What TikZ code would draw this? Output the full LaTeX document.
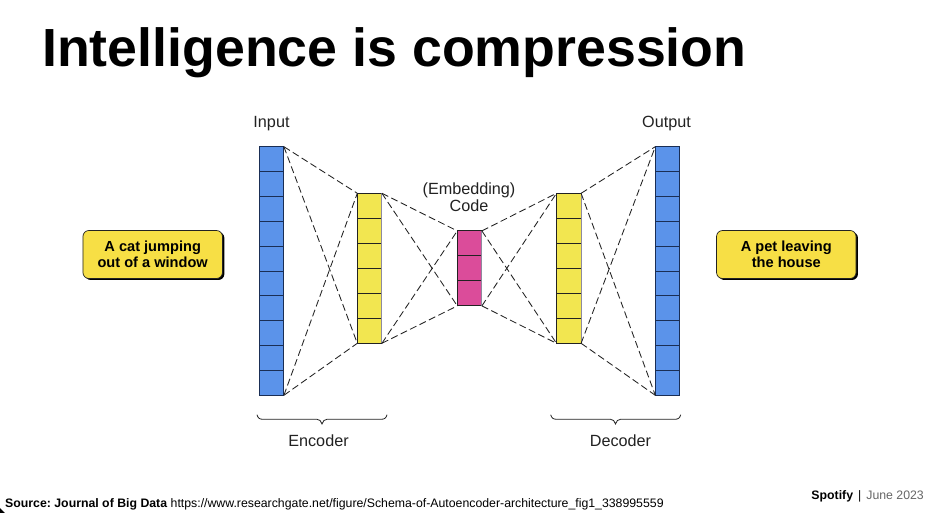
\documentclass[tikz,border=0pt]{standalone}
\usepackage{fontspec}
\setmainfont{Liberation Sans}
\usetikzlibrary{calc}
\definecolor{bluecell}{HTML}{5B93EA}
\definecolor{yellowcell}{HTML}{F2E650}
\definecolor{pinkcell}{HTML}{DB4C9A}
\definecolor{boxyellow}{HTML}{F7DF45}
\definecolor{ink}{HTML}{222222}
\definecolor{lineblue}{HTML}{1A2E55}
\definecolor{edgegrey}{HTML}{8E8A9E}
\tikzset{
  x=1pt,y=-1pt,
  column/.style={draw=#1,line width=0.9pt,inner sep=0pt,minimum width=24.6pt,outer sep=0pt},
  link/.style={draw=ink,line width=0.85pt,dash pattern=on 7pt off 3.5pt},
  callout/.style={draw=ink,line width=0.7pt,fill=boxyellow,rounded corners=6pt,minimum width=139.5pt,minimum height=48pt,inner sep=0pt,align=center,font=\bfseries\fontsize{14.6}{16.5}\selectfont,text=black},
  shade/.style={fill=black,rounded corners=6pt,minimum width=139.5pt,minimum height=48pt,inner sep=0pt},
  lab/.style={font=\fontsize{16.2}{16.8}\selectfont,text=ink,align=center,inner sep=0pt},
  bracket/.style={draw=ink,line width=0.8pt},
}
\newcommand{\cellrules}[3]{%
  \foreach \k in {1,...,#2}{
    \draw[#3,line width=0.9pt] ($(#1.north west)!{\k/(#2+1)}!(#1.south west)$) -- ($(#1.north east)!{\k/(#2+1)}!(#1.south east)$);
  }}
\begin{document}
\frenchspacing
\begin{tikzpicture}
\useasboundingbox (0,0) rectangle (938,513);
\fill[white] (0,0) rectangle (938,513);
\fill[black] (0,508) -- (5,513) -- (0,513) -- cycle;
\node[anchor=base west,inner sep=0pt,font=\bfseries\fontsize{53.7}{54}\selectfont,text=black] (title) at (42,66.7) {Intelligence is compression};

\node[column=lineblue,fill=bluecell,minimum height=248.6pt] (b1) at (271.6,271) {};
\node[column=ink,fill=yellowcell,minimum height=150pt] (y1) at (369.6,268.3) {};
\node[column=ink,fill=pinkcell,minimum height=75pt] (p) at (469.6,268.4) {};
\node[column=ink,fill=yellowcell,minimum height=150pt] (y2) at (568.8,268.3) {};
\node[column=lineblue,fill=bluecell,minimum height=248.6pt] (b2) at (667.6,271) {};
\cellrules{b1}{9}{lineblue}
\cellrules{y1}{5}{ink}
\cellrules{p}{2}{ink}
\cellrules{y2}{5}{ink}
\cellrules{b2}{9}{lineblue}
\foreach \c in {y1,p,y2}{
  \draw[edgegrey,line width=1.1pt] (\c.north east) -- (\c.south east);
}

\foreach \l/\r in {b1/y1,y1/p,p/y2,y2/b2}{
  \draw[link] (\l.north east) -- (\r.north west);
  \draw[link] (\l.north east) -- (\r.south west);
  \draw[link] (\l.south east) -- (\r.north west);
  \draw[link] (\l.south east) -- (\r.south west);
}

\node[shade] (sa) at (154.6,256) {};
\node[callout] (a) at (152.7,254.5) {A cat jumping\\out of a window};
\node[shade] (sb) at (788.2,256) {};
\node[callout] (d) at (786.3,254.5) {A pet leaving\\the house};

\node[lab] (input) at (271.5,123.5) {Input};
\node[lab] (output) at (666.5,123.5) {Output};
\node[lab] (code) at (469,197.5) {(Embedding)\\Code};
\node[lab] (enc) at (318.5,440.7) {Encoder};
\node[lab] (dec) at (620.5,440.7) {Decoder};

\foreach \a/\m/\b in {257/322/387,550.7/615.5/680.7}{
  \draw[bracket] (\a,414.7) .. controls (\a+0.8,418) and (\a+2.5,419.3) .. (\a+6,419.3)
    -- (\m-5,419.3) .. controls (\m-2.5,419.3) and (\m-0.8,421) .. (\m,424)
    .. controls (\m+0.8,421) and (\m+2.5,419.3) .. (\m+5,419.3)
    -- (\b-6,419.3) .. controls (\b-2.5,419.3) and (\b-0.8,418) .. (\b,414.7);
}

\node[anchor=base west,inner sep=0pt,font=\fontsize{12.3}{13}\selectfont,text=black] (src) at (5,507) {\textbf{Source: Journal of Big Data} https://www.researchgate.net/figure/Schema-of-Autoencoder-architecture\_fig1\_338995559};
\node[anchor=base east,inner sep=0pt,font=\fontsize{12.3}{13}\selectfont,text=black] (sp) at (924,499) {\textbf{Spotify}\hspace{5pt}|\hspace{5pt}\textcolor{black!60}{June 2023}};
\end{tikzpicture}
\end{document}
